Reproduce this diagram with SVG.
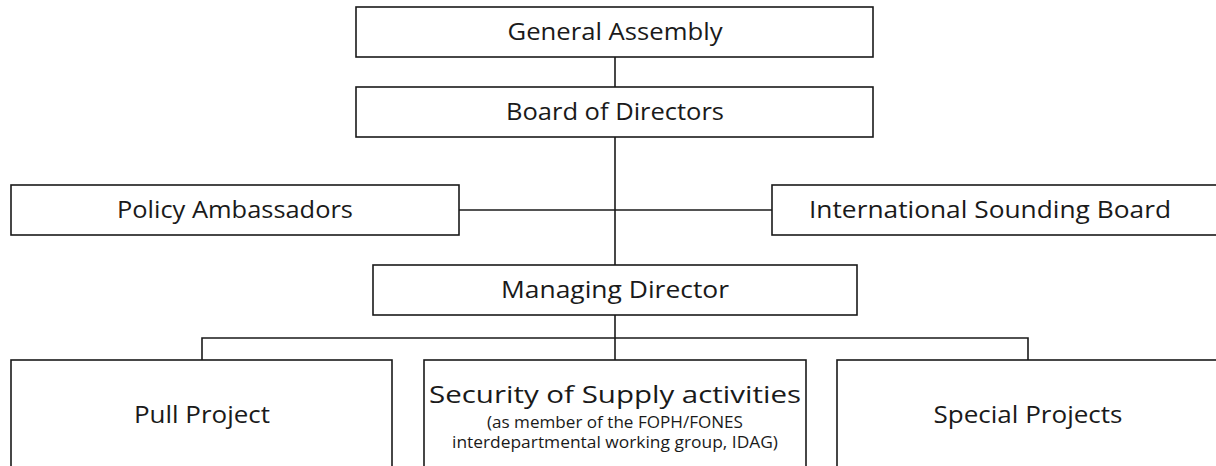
<svg xmlns="http://www.w3.org/2000/svg" width="1216" height="466" viewBox="0 0 1216 466">
<style>
.box{fill:#fff;stroke:#1a1a1a;stroke-width:1.6}
.t{font-family:"Open Sans","Noto Sans",sans-serif;font-size:24px;fill:#1a1a1a;text-anchor:middle}
.s{font-family:"Open Sans","Noto Sans",sans-serif;font-size:15.5px;fill:#1a1a1a;text-anchor:middle}
.c{fill:none;stroke:#1a1a1a;stroke-width:1.6}
</style>
<rect width="1216" height="466" fill="#fff"/>
<g id="connectors">
<line class="c" x1="615" y1="57" x2="615" y2="87"/>
<line class="c" x1="615" y1="137" x2="615" y2="265"/>
<line class="c" x1="459" y1="210" x2="772" y2="210"/>
<line class="c" x1="615" y1="315" x2="615" y2="360"/>
<polyline class="c" points="202,360 202,338 1028,338 1028,360"/>
</g>
<g id="general-assembly">
<rect class="box" x="356" y="7" width="517" height="50"/>
<text class="t" x="615" y="40" textLength="215" lengthAdjust="spacingAndGlyphs">General Assembly</text>
</g>
<g id="board-of-directors">
<rect class="box" x="356" y="87" width="517" height="50"/>
<text class="t" x="615" y="120" textLength="218" lengthAdjust="spacingAndGlyphs">Board of Directors</text>
</g>
<g id="policy-ambassadors">
<rect class="box" x="11" y="185" width="448" height="50"/>
<text class="t" x="235" y="218" textLength="236" lengthAdjust="spacingAndGlyphs">Policy Ambassadors</text>
</g>
<g id="international-sounding-board">
<rect class="box" x="772" y="185" width="460" height="50"/>
<text class="t" x="990" y="218" textLength="362" lengthAdjust="spacingAndGlyphs">International Sounding Board</text>
</g>
<g id="managing-director">
<rect class="box" x="373" y="265" width="484" height="50"/>
<text class="t" x="615" y="298" textLength="228" lengthAdjust="spacingAndGlyphs">Managing Director</text>
</g>
<g id="pull-project">
<rect class="box" x="11" y="360" width="381" height="130"/>
<text class="t" x="202" y="423" textLength="136" lengthAdjust="spacingAndGlyphs">Pull Project</text>
</g>
<g id="security-of-supply">
<rect class="box" x="424" y="360" width="382" height="130"/>
<text class="t" x="615" y="403" textLength="372" lengthAdjust="spacingAndGlyphs" style="font-size:23px">Security of Supply activities</text>
<text class="s" x="615" y="428" textLength="256" lengthAdjust="spacingAndGlyphs">(as member of the FOPH/FONES</text>
<text class="s" x="615" y="448" textLength="326" lengthAdjust="spacingAndGlyphs">interdepartmental working group, IDAG)</text>
</g>
<g id="special-projects">
<rect class="box" x="837" y="360" width="400" height="130"/>
<text class="t" x="1028" y="423" textLength="189" lengthAdjust="spacingAndGlyphs">Special Projects</text>
</g>
</svg>
